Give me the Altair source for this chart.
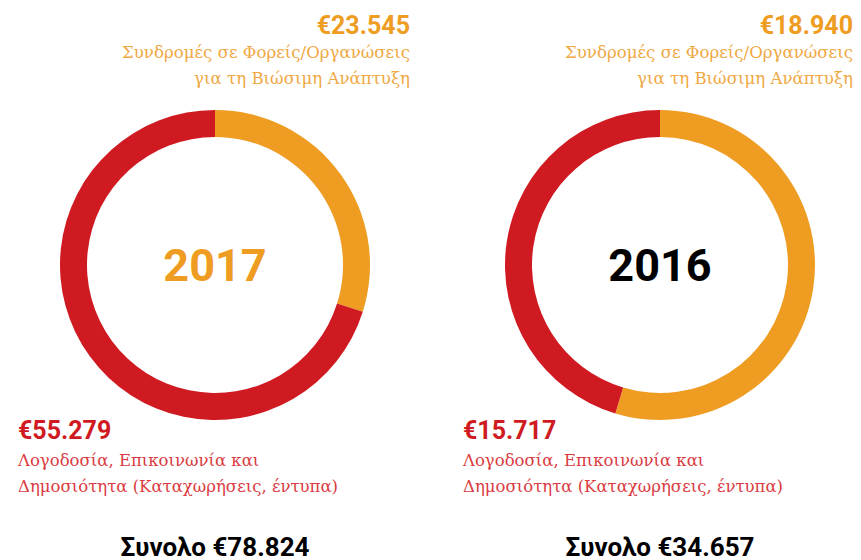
import altair as alt
import pandas as pd

# ---- data ----
years = ["2017", "2016"]
subscriptions = [23545, 18940]          # Συνδρομές σε Φορείς/Οργανώσεις για τη Βιώσιμη Ανάπτυξη
communication = [55279, 15717]          # Λογοδοσία, Επικοινωνία και Δημοσιότητα
totals = [78824, 34657]
categories = ["Συνδρομές", "Λογοδοσία"]
sub_label = ["Συνδρομές σε Φορείς/Οργανώσεις", "για τη Βιώσιμη Ανάπτυξη"]
comm_label = ["Λογοδοσία, Επικοινωνία και", "Δημοσιότητα (Καταχωρήσεις, έντυπα)"]
total_word = "Συνολο"

ORANGE = "#EE9C22"
RED = "#CF1A21"
ORANGE_LIGHT = "#F0A843"
RED_LIGHT = "#DA3B42"
year_colors = [ORANGE, "#000000"]

BOLD = "Roboto"
LIGHT = "DejaVu Serif"


def euro(v):
    return "€" + f"{v:,}".replace(",", ".")


def text_layer(txt, x, y, size, color, align, font, weight):
    return alt.Chart(pd.DataFrame({"t": [txt]})).mark_text(
        align=align, baseline="alphabetic", fontSize=size, font=font,
        fontWeight=weight, color=color
    ).encode(text="t:N", x=alt.value(x), y=alt.value(y))


def panel(i, w, cx, right_x, left_x):
    df = pd.DataFrame({
        "cat": categories,
        "value": [subscriptions[i], communication[i]],
        "ord": [0, 1],
    })
    arc = alt.Chart(df).mark_arc(outerRadius=155, innerRadius=128).encode(
        theta=alt.Theta("value:Q", stack=True),
        color=alt.Color("cat:N", scale=alt.Scale(domain=categories, range=[ORANGE, RED]), legend=None),
        order=alt.Order("ord:Q"),
        x=alt.value(cx),
        y=alt.value(257),
    )
    layers = [
        arc,
        text_layer(years[i], cx, 273, 45, year_colors[i], "center", BOLD, "bold"),
        text_layer(euro(subscriptions[i]), right_x, 26, 25, ORANGE, "right", BOLD, "bold"),
        text_layer(sub_label[0], right_x, 50, 16.6, ORANGE_LIGHT, "right", LIGHT, "normal"),
        text_layer(sub_label[1], right_x, 76, 16.6, ORANGE_LIGHT, "right", LIGHT, "normal"),
        text_layer(euro(communication[i]), left_x, 431, 25, RED, "left", BOLD, "bold"),
        text_layer(comm_label[0], left_x, 458, 16.5, RED_LIGHT, "left", LIGHT, "normal"),
        text_layer(comm_label[1], left_x, 484, 16.5, RED_LIGHT, "left", LIGHT, "normal"),
        text_layer(f"{total_word} {euro(totals[i])}", cx, 548, 26, "#000000", "center", BOLD, "bold"),
    ]
    return alt.layer(*layers).properties(width=w, height=552)


chart = alt.hconcat(
    panel(0, 430, 207, 402, 10),
    panel(1, 415, 222, 415, 25),
    spacing=0,
).properties(padding=0).configure_view(stroke=None)

chart.save("out.html", embed_options={"renderer": "svg", "actions": False})
